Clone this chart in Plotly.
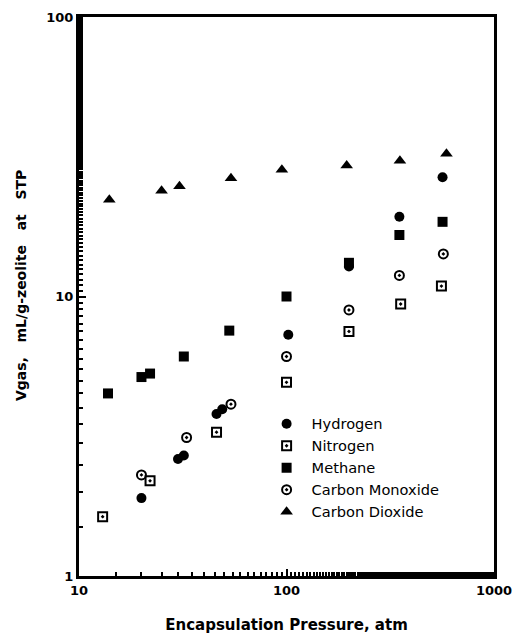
import plotly.graph_objects as go

# Encapsulation pressure (atm) and gas volume (mL/g-zeolite at STP)
h2_p = [20, 30, 32, 46, 49, 102, 200, 350, 565]
h2_v = [1.90, 2.62, 2.70, 3.80, 3.95, 7.3, 12.8, 19.3, 26.7]

n2_p = [13, 22, 46, 100, 200, 355, 558]
n2_v = [1.63, 2.19, 3.27, 4.93, 7.5, 9.4, 10.9]

ch4_p = [13.8, 20, 22, 32, 53, 100, 200, 350, 565]
ch4_v = [4.5, 5.15, 5.3, 6.1, 7.55, 10.0, 13.2, 16.6, 18.5]

co_p = [20, 33, 54, 100, 200, 350, 570]
co_v = [2.30, 3.13, 4.12, 6.1, 8.95, 11.9, 14.2]

co2_p = [14, 25, 30.5, 54, 95, 195, 352, 590]
co2_v = [22.2, 23.9, 24.8, 26.5, 28.4, 29.4, 30.6, 32.4]

series = [
    ("Hydrogen", h2_p, h2_v, "circle", 10),
    ("Nitrogen", n2_p, n2_v, "square-open-dot", 9),
    ("Methane", ch4_p, ch4_v, "square", 10),
    ("Carbon Monoxide", co_p, co_v, "circle-open-dot", 9),
    ("Carbon Dioxide", co2_p, co2_v, "triangle-up", 11),
]

fig = go.Figure()
for name, xs, ys, sym, sz in series:
    fig.add_trace(go.Scatter(
        x=xs, y=ys, mode="markers", name=name,
        marker=dict(symbol=sym, size=sz, color="black",
                    line=dict(color="black", width=2 if "open" in sym else 0)),
    ))

bold_family = "DejaVu Sans, sans-serif"
axis_common = dict(
    type="log", showline=True, linecolor="black", linewidth=3, mirror=True,
    ticks="inside", ticklen=7, tickwidth=2, tickcolor="black",
    showgrid=False, zeroline=False, automargin=False,
    tickfont=dict(family=bold_family, size=13, color="black", weight="bold"),
    minor=dict(ticks="inside", ticklen=4, tickwidth=1.5, tickcolor="black", showgrid=False),
)

fig.update_xaxes(
    range=[1, 3], tickvals=[10, 100, 1000], ticktext=["10", "100", "1000"],
    title=dict(text="Encapsulation Pressure, atm", standoff=26,
               font=dict(family=bold_family, size=15, color="black", weight="bold")),
    **axis_common,
)
fig.update_yaxes(
    range=[0, 2], tickvals=[1, 10, 100], ticktext=["1", "10", "100"],
    **axis_common,
)

fig.add_annotation(
    text="Vgas,   mL/g-zeolite   at   STP", textangle=-90,
    xref="paper", yref="paper", x=-0.138, y=0.52,
    xanchor="center", yanchor="middle", showarrow=False,
    font=dict(family=bold_family, size=14, color="black", weight="bold"),
)

fig.update_layout(
    width=515, height=634,
    margin=dict(l=79, r=21, t=17, b=58),
    paper_bgcolor="white", plot_bgcolor="white",
    showlegend=True,
    legend=dict(x=0.44, y=0.301, xanchor="left", yanchor="top",
                bgcolor="rgba(0,0,0,0)", borderwidth=0,
                font=dict(family="DejaVu Sans, sans-serif", size=14.6, color="black"),
                itemwidth=40, tracegroupgap=0),
)

fig.write_html("out.html")
